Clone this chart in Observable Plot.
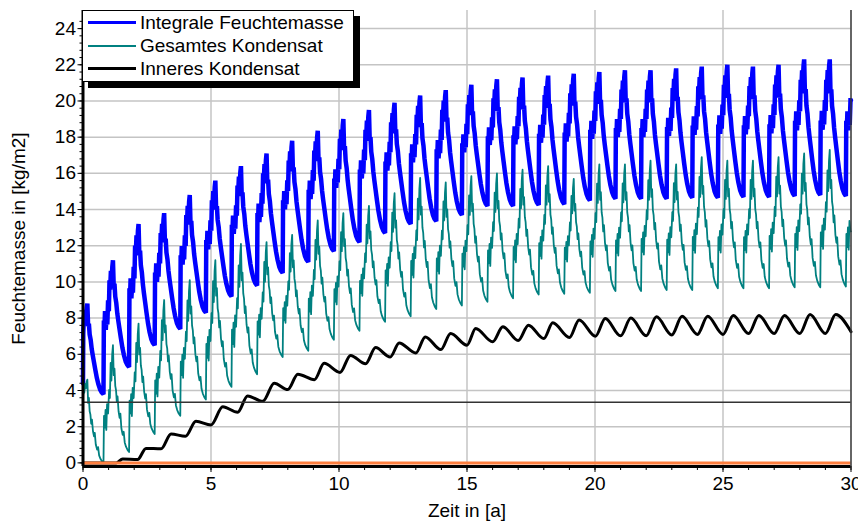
<!DOCTYPE html>
<html><head><meta charset="utf-8">
<script src="https://cdn.jsdelivr.net/npm/d3@7"></script>
<script src="https://cdn.jsdelivr.net/npm/@observablehq/plot@0.6"></script>
<style>
html,body{margin:0;padding:0;background:#fff;overflow:hidden;}
#wrap{position:relative;width:858px;height:522px;font-family:"Liberation Sans",Arial,sans-serif;}
#legend{position:absolute;left:82px;top:10px;width:272px;height:72px;box-sizing:border-box;background:#fff;border:1.5px solid #000;box-shadow:6px 6px 0 #000;}
.row{position:absolute;left:0;height:23px;width:100%;}
.sw{position:absolute;left:5px;width:48px;top:50%;}
.lb{position:absolute;left:57px;top:50%;transform:translateY(-52%);font-size:19px;line-height:19px;white-space:nowrap;color:#000;}
</style></head><body><div id="wrap"><div id="legend"></div></div>
<script>
// ---- series names / styles ----
const seriesNames = ["Integrale Feuchtemasse", "Gesamtes Kondensat", "Inneres Kondensat"];
const seriesColors = ["#0000ff", "#008080", "#000000"];
const seriesWidths = [4.5, 1.8, 3];

// ---- annual cycles (index k: trough at year k-0.2, peak at ~k+0.17) ----
const blueTrough = [4.4, 3.8, 5.3, 6.5, 7.4, 8.3, 9.2, 9.8, 10.5, 11.1, 11.7, 12.2, 12.7, 13.2, 13.35, 13.7,
  14.2, 14.2, 14.25, 14.3, 14.5, 14.6, 14.6, 14.6, 14.65, 14.65, 14.7, 14.7, 14.75, 14.8, 14.75, 14.8];
const bluePeak = [8.8, 11.2, 13.2, 13.8, 14.8, 15.6, 16.4, 17.1, 17.8, 18.35, 19.0, 19.5, 19.9, 20.3, 20.6,
  20.9, 21.2, 21.3, 21.4, 21.5, 21.6, 21.7, 21.7, 21.8, 21.9, 22.0, 21.9, 22.0, 22.3, 22.3, 22.3];
const blueStart = 4.4;

const tealTrough = [3.0, 0.0, 0.6, 1.6, 2.6, 3.5, 4.2, 4.9, 5.85, 6.2, 6.8, 7.3, 7.8, 8.1, 8.5, 8.7,
  8.9, 9.1, 9.3, 9.35, 9.4, 9.5, 9.5, 9.55, 9.55, 9.65, 9.65, 9.65, 9.7, 9.7, 9.75, 9.75];
const tealPeak = [4.6, 6.5, 7.7, 9.0, 10.1, 11.2, 12.1, 12.2, 12.6, 13.4, 13.8, 14.2, 14.9, 15.75, 15.5,
  15.85, 16.0, 16.2, 16.4, 15.7, 16.5, 16.5, 16.7, 16.5, 16.9, 16.7, 16.7, 16.9, 17.1, 17.3, 17.0];
const tealStart = 3.6;

// shape of one yearly cycle (phase in years after trough, relative level)
const bluePhase = [0, .015, .04, .06, .09, .12, .15, .18, .21, .235, .26, .29, .32, .345, .37, .40, .43, .46, .50, .54, .58, .63, .68, .74, .80, .87, .93];
const blueLevel = [0, .55, .50, .62, .48, .58, .52, .70, .62, .85, .78, .92, .84, .95, 1.0, .75, .78, .66, .60, .50, .43, .35, .27, .18, .11, .05, .02];
const bluePeakPhase = 0.37;

const tealPhase = [0, .02, .05, .08, .11, .14, .18, .22, .25, .28, .31, .34, .37, .40, .43, .46, .49, .52, .55, .59, .63, .66, .70, .75, .79, .83, .88, .94];
const tealLevel = [0, .40, .30, .45, .28, .50, .42, .62, .55, .85, .70, .92, 1.0, .72, .78, .62, .58, .47, .52, .38, .32, .36, .22, .16, .19, .09, .05, .02];
const tealPeakPhase = 0.37;

// ---- inner condensate: key points [year, value] ----
const blackT = [0, 1.3, 1.55, 2.13, 2.46, 3.05, 3.44, 4.0, 4.41, 5.0, 5.46, 6.04, 6.43, 7.02, 7.47, 8.0, 8.39, 9.04,
  9.42, 10.04, 10.45, 11.04, 11.43, 12.0, 12.35, 13.0, 13.37, 13.98, 14.36, 15.0, 15.34, 16.0, 16.4, 17.0, 17.4,
  18.0, 18.35, 19.0, 19.38, 20.02, 20.4, 21.0, 21.4, 22.0, 22.4, 23.0, 23.4, 24.0, 24.4, 25.0, 25.4, 26.0, 26.4,
  27.0, 27.4, 28.0, 28.4, 29.0, 29.4, 30.0];
const blackV = [0, 0, 0.22, 0.18, 0.8, 0.78, 1.6, 1.47, 2.3, 2.1, 3.1, 2.8, 3.7, 3.4, 4.4, 4.05, 4.9, 4.6,
  5.5, 5.0, 5.94, 5.48, 6.37, 5.85, 6.63, 6.07, 6.96, 6.26, 7.15, 6.5, 7.43, 6.69, 7.52, 6.76, 7.61,
  6.87, 7.74, 6.93, 7.9, 7.0, 7.98, 7.02, 8.0, 7.02, 8.07, 7.07, 8.1, 7.1, 8.1, 7.1, 8.15, 7.15, 8.15,
  7.15, 8.15, 7.15, 8.2, 7.15, 8.2, 7.25];

const limitLine = 3.35;   // thin horizontal line
const zeroLine = 0;       // orange line

// ---- axes ----
const xMajor = [0, 5, 10, 15, 20, 25, 30];
const xMinor = d3.range(0, 31, 1);
const xGrid = [5, 10, 15, 20, 25];
const yMajor = d3.range(0, 25, 2);
const yMinor = d3.range(0, 62).map(i => i * 0.4).filter(v => v <= 25);
const yGrid = d3.range(2, 25, 2);

function buildCycles(troughs, peaks, phase, level, peakPhase, start) {
  const out = [{t: 0, v: start}];
  for (let k = 0; k < peaks.length; k++) {
    const t0 = k - 0.2;
    for (let i = 0; i < phase.length; i++) {
      const t = t0 + phase[i];
      if (t < 0 || t > 30) continue;
      const base = phase[i] <= peakPhase ? troughs[k] : troughs[k + 1];
      out.push({t, v: base + level[i] * (peaks[k] - base)});
    }
  }
  out.push({t: 30, v: out[out.length - 1].v});
  return out;
}

const blueData = buildCycles(blueTrough, bluePeak, bluePhase, blueLevel, bluePeakPhase, blueStart);
const tealData = buildCycles(tealTrough, tealPeak, tealPhase, tealLevel, tealPeakPhase, tealStart);
const blackData = blackT.map((t, i) => ({t, v: blackV[i]}));

const chart = Plot.plot({
  width: 858, height: 522,
  marginLeft: 82.5, marginRight: 7.5, marginTop: 10, marginBottom: 56,
  style: {fontFamily: "'Liberation Sans', Arial, sans-serif", fontSize: "19px", background: "white", color: "black"},
  x: {domain: [0, 30]},
  y: {domain: [-0.2, 25]},
  marks: [
    Plot.gridY(yGrid, {stroke: "#c4c4c4", strokeOpacity: 1, strokeWidth: 1.5}),
    Plot.gridX(xGrid, {stroke: "#c4c4c4", strokeOpacity: 1, strokeWidth: 1.5}),
    Plot.line(blueData, {x: "t", y: "v", stroke: seriesColors[0], strokeWidth: seriesWidths[0], strokeLinejoin: "miter", strokeMiterlimit: 2}),
    Plot.line(tealData, {x: "t", y: "v", stroke: seriesColors[1], strokeWidth: seriesWidths[1]}),
    Plot.line(blackData, {x: "t", y: "v", stroke: seriesColors[2], strokeWidth: seriesWidths[2], curve: "monotone-x"}),
    Plot.ruleY([limitLine], {stroke: "#333", strokeWidth: 1.5}),
    Plot.ruleY([zeroLine], {stroke: "#ff7f3f", strokeWidth: 3}),
    Plot.ruleX([0], {stroke: "#000", strokeWidth: 3}),
    Plot.ruleY([-0.2], {stroke: "#000", strokeWidth: 3}),
    Plot.ruleX([30], {stroke: "#333", strokeWidth: 1.5}),
    Plot.axisY(yMajor, {tickSize: 5, tickPadding: 2, label: "Feuchtemasse in [kg/m2]", labelAnchor: "center", labelOffset: 72, labelArrow: "none"}),
    Plot.axisY(yMinor, {tickSize: 3, tickFormat: () => "", label: null}),
    Plot.axisX(xMajor, {tickSize: 6, tickPadding: 4, label: "Zeit in [a]", labelAnchor: "center", labelOffset: 50, labelArrow: "none"}),
    Plot.axisX(xMinor, {tickSize: 4, tickFormat: () => "", label: null})
  ]
});
document.getElementById("wrap").insertBefore(chart, document.getElementById("legend"));

// legend
const lg = document.getElementById("legend");
const legendWidths = [3, 2, 3];
seriesNames.forEach((name, i) => {
  const row = document.createElement("div");
  row.className = "row";
  row.style.top = (i * 23) + "px";
  const sw = document.createElement("div");
  sw.className = "sw";
  sw.style.borderTop = legendWidths[i] + "px solid " + seriesColors[i];
  sw.style.marginTop = (-legendWidths[i] / 2) + "px";
  const lb = document.createElement("div");
  lb.className = "lb";
  lb.textContent = name;
  row.appendChild(sw); row.appendChild(lb);
  lg.appendChild(row);
});
</script></body></html>
